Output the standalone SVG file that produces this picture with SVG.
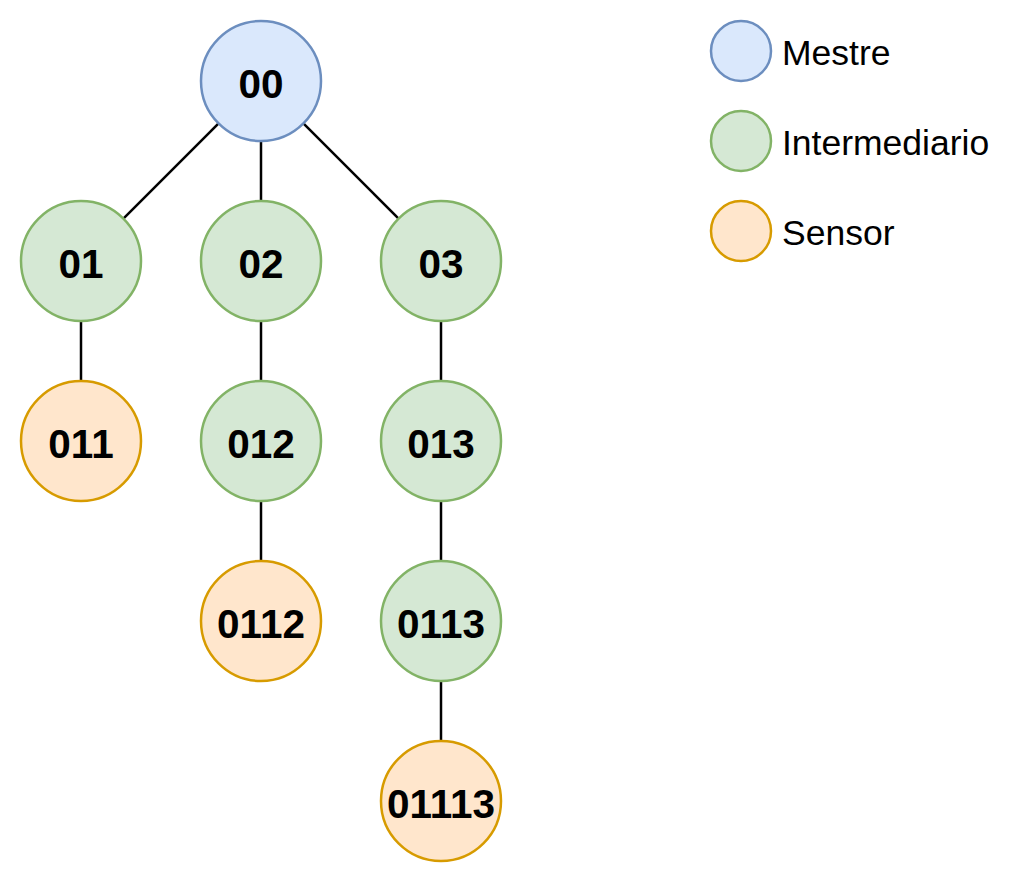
<svg xmlns="http://www.w3.org/2000/svg" width="1033" height="883" viewBox="0 0 1033 883">
<style>
.blue{fill:#dae8fc;stroke:#6c8ebf;stroke-width:2.5}
.green{fill:#d5e8d4;stroke:#82b366;stroke-width:2.5}
.orange{fill:#ffe6cc;stroke:#d79b00;stroke-width:2.5}
.lbl{font-family:"Liberation Sans",Arial,sans-serif;font-weight:bold;font-size:40.5px;fill:#000;text-anchor:middle}
.leg{font-family:"Liberation Sans",Arial,sans-serif;font-size:35.5px;fill:#000}
.edge{stroke:#000;stroke-width:2.5;fill:none}
</style>
<rect width="1033" height="883" fill="#fff"/>
<g id="connectors">
<line class="edge" x1="218.6" y1="123.4" x2="123.4" y2="218.6"/>
<line class="edge" x1="261" y1="141" x2="261" y2="201"/>
<line class="edge" x1="303.4" y1="123.4" x2="398.6" y2="218.6"/>
<line class="edge" x1="81" y1="321" x2="81" y2="381"/>
<line class="edge" x1="261" y1="321" x2="261" y2="381"/>
<line class="edge" x1="441" y1="321" x2="441" y2="381"/>
<line class="edge" x1="261" y1="501" x2="261" y2="561"/>
<line class="edge" x1="441" y1="501" x2="441" y2="561"/>
<line class="edge" x1="441" y1="681" x2="441" y2="741"/>
</g>
<g id="n00"><circle class="blue" cx="261" cy="81" r="60"/><text class="lbl" x="261" y="97.5">00</text></g>
<g id="n01"><circle class="green" cx="81" cy="261" r="60"/><text class="lbl" x="81" y="277.5">01</text></g>
<g id="n02"><circle class="green" cx="261" cy="261" r="60"/><text class="lbl" x="261" y="277.5">02</text></g>
<g id="n03"><circle class="green" cx="441" cy="261" r="60"/><text class="lbl" x="441" y="277.5">03</text></g>
<g id="n011"><circle class="orange" cx="81" cy="441" r="60"/><text class="lbl" x="81" y="457.5">011</text></g>
<g id="n012"><circle class="green" cx="261" cy="441" r="60"/><text class="lbl" x="261" y="457.5">012</text></g>
<g id="n013"><circle class="green" cx="441" cy="441" r="60"/><text class="lbl" x="441" y="457.5">013</text></g>
<g id="n0112"><circle class="orange" cx="261" cy="621" r="60"/><text class="lbl" x="261" y="637.5">0112</text></g>
<g id="n0113"><circle class="green" cx="441" cy="621" r="60"/><text class="lbl" x="441" y="637.5">0113</text></g>
<g id="n01113"><circle class="orange" cx="441" cy="801" r="60"/><text class="lbl" x="441" y="817.5">01113</text></g>
<g id="legend-mestre"><circle class="blue" cx="741" cy="51" r="30"/><text class="leg" x="782" y="65">Mestre</text></g>
<g id="legend-intermediario"><circle class="green" cx="741" cy="141" r="30"/><text class="leg" x="782" y="155">Intermediario</text></g>
<g id="legend-sensor"><circle class="orange" cx="741" cy="231" r="30"/><text class="leg" x="782" y="245">Sensor</text></g>
</svg>
